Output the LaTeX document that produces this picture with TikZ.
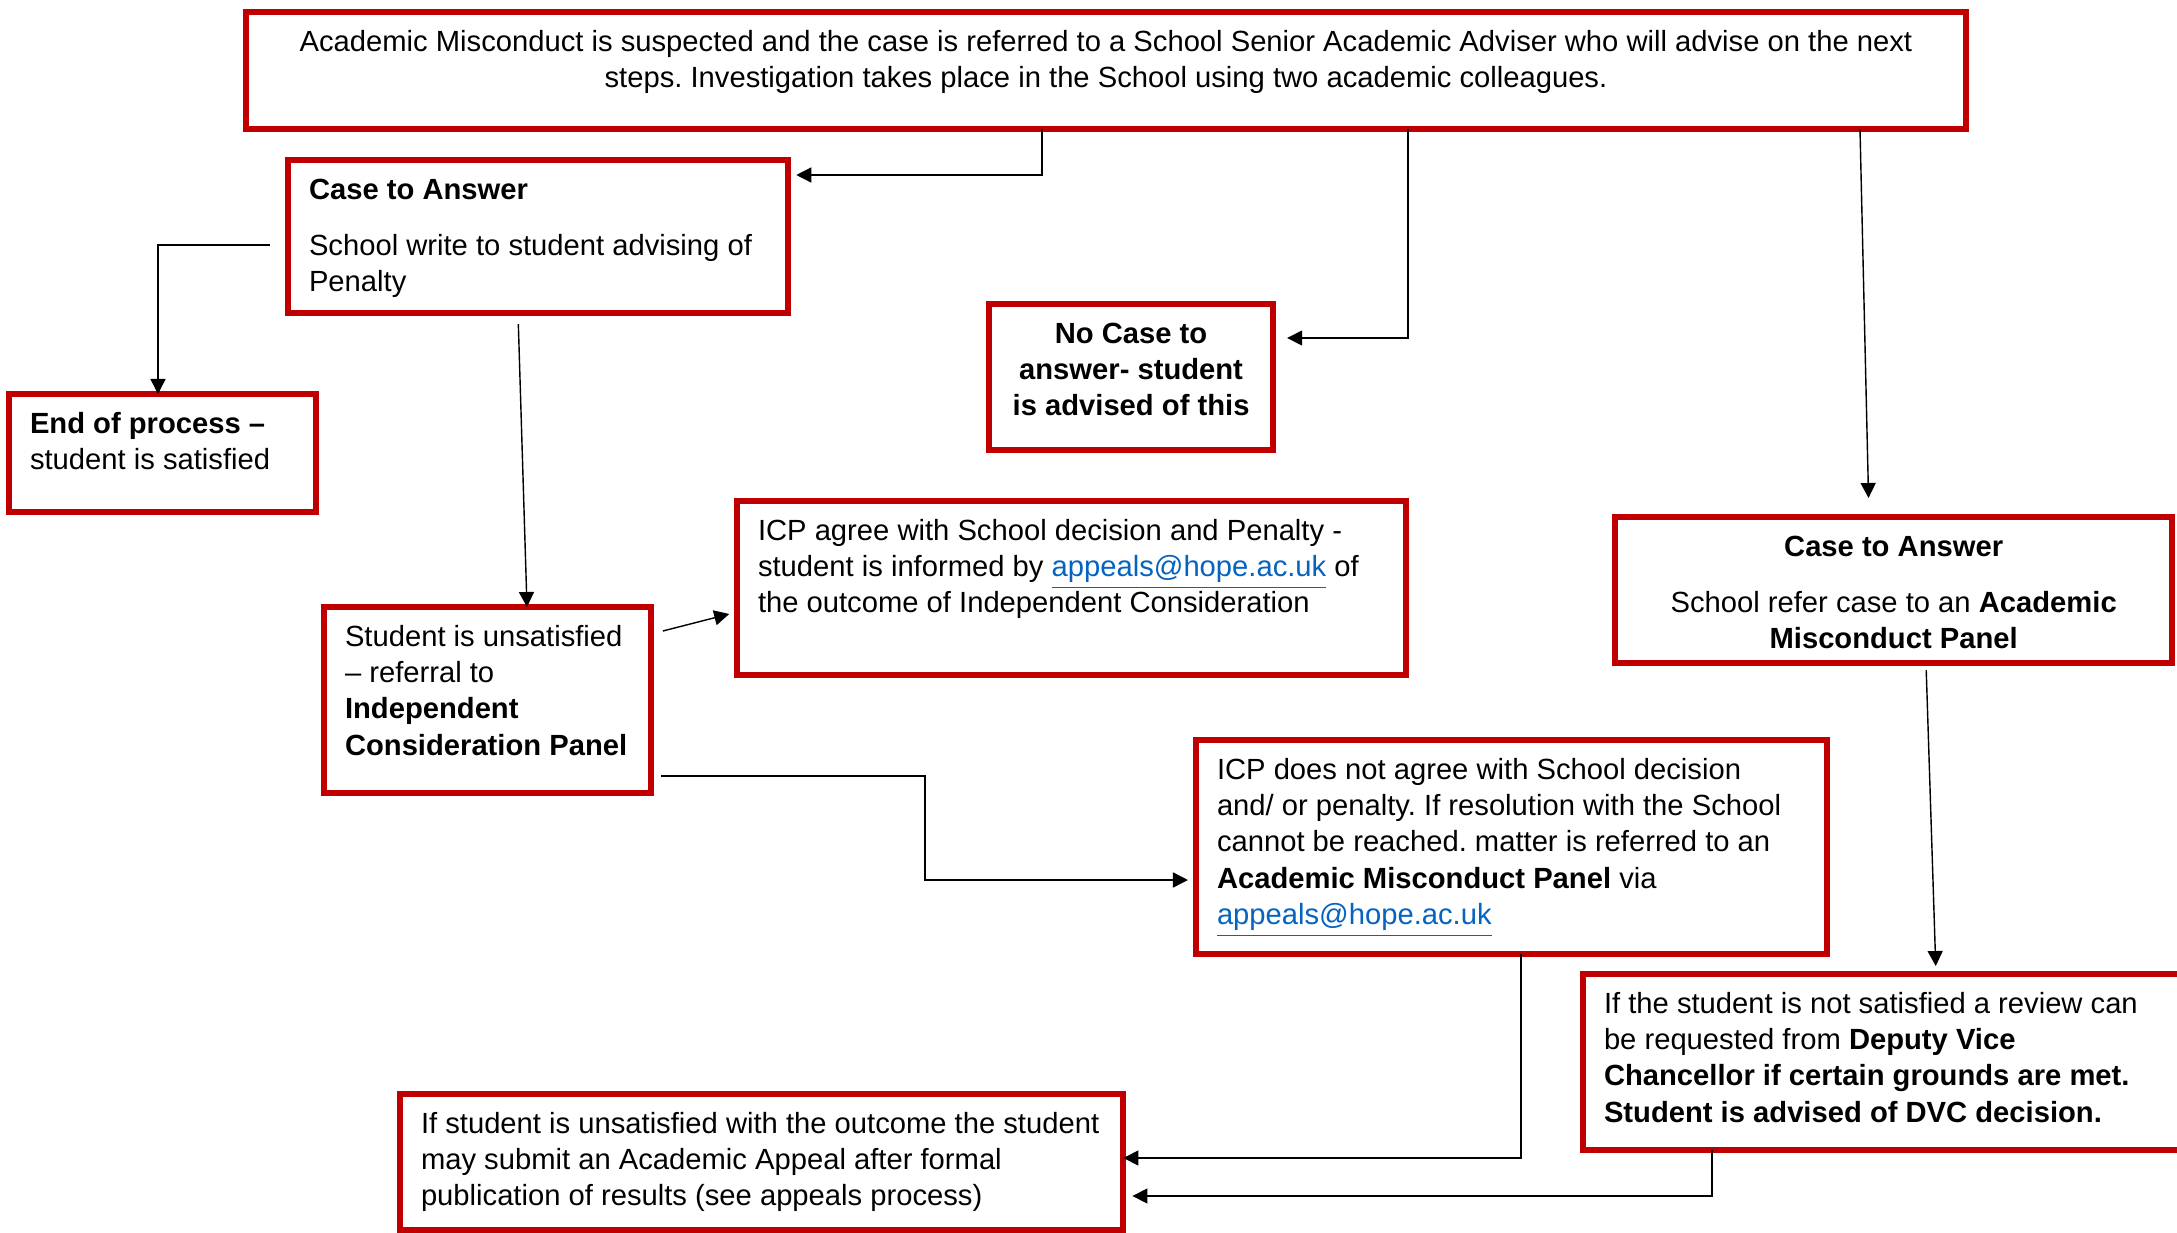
\documentclass[tikz,border=0pt]{standalone}
\usepackage{fontspec}
\setmainfont{Liberation Sans}
\usetikzlibrary{arrows.meta}
\definecolor{boxred}{RGB}{192,0,0}
\definecolor{linkblue}{RGB}{5,99,193}
\newcommand{\boxbody}[3]{\parbox[c][#2][t]{#1}{\strut#3}}
\newcommand{\lnk}[1]{{\color{linkblue}\underline{#1}}}
\frenchspacing
\tikzset{
  box/.style={draw=boxred, line width=0.06cm, fill=white, anchor=north west, outer sep=0pt,
    inner xsep=0.21cm, inner ysep=0.14cm, font=\fontsize{8.3}{10.3}\selectfont},
}
\begin{document}
\begin{tikzpicture}[x=0.01cm, y=-0.01cm, >={Triangle[length=0.15cm,width=0.15cm]}, line width=0.4pt]
	\useasboundingbox[fill=white] (0,0) rectangle (2177,1233);
	\clip (0,0) rectangle (2177,1233);
	% boxes
	\node[box] (top) at (246,12) {\boxbody{16.77cm}{0.89cm}{\centering Academic Misconduct is suspected and the case is referred to a School Senior Academic Adviser who will advise on the next\\ steps. Investigation takes place in the School using two academic colleagues.}};
	\node[box] (caseL) at (288,160) {\boxbody{4.58cm}{1.25cm}{\raggedright\textbf{Case to Answer}\\[0.2cm] School write to student advising of\\ Penalty}};
	\node[box] (endp) at (9,394) {\boxbody{2.65cm}{0.90cm}{\raggedright\textbf{End of process –}\\ student is satisfied}};
	\node[box] (nocase) at (989,304) {\boxbody{2.42cm}{1.18cm}{\centering\textbf{No Case to\\ answer- student\\ is advised of this}}};
	\node[box] (icpagree) at (737,501) {\boxbody{6.27cm}{1.46cm}{\raggedright ICP agree with School decision and Penalty -\\ student is informed by \lnk{appeals@hope.ac.uk} of\\ the outcome of Independent Consideration}};
	\node[box] (caseR) at (1615,517) {\boxbody{5.15cm}{1.18cm}{\centering\textbf{Case to Answer}\\[0.2cm] School refer case to an \textbf{Academic}\\ \textbf{Misconduct Panel}}};
	\node[box] (student) at (324,607) {\boxbody{2.85cm}{1.58cm}{\raggedright Student is unsatisfied\\ – referral to\\ \textbf{Independent}\\ \textbf{Consideration Panel}}};
	\node[box] (icpno) at (1196,740) {\boxbody{5.89cm}{1.86cm}{\raggedright ICP does not agree with School decision\\ and/ or penalty. If resolution with the School\\ cannot be reached. matter is referred to an\\ \textbf{Academic Misconduct Panel} via\\ \lnk{appeals@hope.ac.uk}}};
	\node[box] (dvc) at (1583,974) {\boxbody{5.98cm}{1.48cm}{\raggedright If the student is not satisfied a review can\\ be requested from \textbf{Deputy Vice}\\ \textbf{Chancellor if certain grounds are met.}\\ \textbf{Student is advised of DVC decision.}}};
	\node[box] (final) at (400,1094) {\boxbody{6.81cm}{1.08cm}{\raggedright If student is unsatisfied with the outcome the student\\ may submit an Academic Appeal after formal\\ publication of results (see appeals process)}};
	% bends and feet of the connectors
	\coordinate (b1) at (1042,175);
	\coordinate (b2) at (1408,338);
	\coordinate (b3) at (158,245);
	\coordinate (b4) at (925,776);
	\coordinate (b5) at (925,880);
	\coordinate (b6) at (1521,1158);
	\coordinate (b7) at (1712,1196);
	\coordinate (s1) at (518,0); \coordinate (s2) at (527,0);
	\coordinate (s3) at (1860,0); \coordinate (s4) at (1869,0);
	\coordinate (s5) at (1926,0); \coordinate (s6) at (1936,0);
	\coordinate (s7) at (0,634); \coordinate (s8) at (0,612);
	% connectors
	\draw[->, shorten >=0.08cm] (top.south -| b1) |- (caseL.east |- b1);
	\draw[->, shorten >=0.14cm] (top.south -| b2) |- (nocase.east |- b2);
	\draw[->, shorten >=0.19cm] (top.south -| s3) -- (caseR.north -| s4);
	\draw[->, shorten <=0.18cm] (caseL.west |- b3) -| (endp.north -| b3);
	\draw[->, shorten <=0.11cm] (caseL.south -| s1) -- (student.north -| s2);
	\draw[->, shorten <=0.12cm, shorten >=0.08cm] (student.east |- s7) -- (icpagree.west |- s8);
	\draw[->, shorten <=0.10cm, shorten >=0.08cm] (student.east |- b4) -- (b4) |- (icpno.west |- b5);
	\draw[->, shorten <=0.07cm, shorten >=0.08cm] (caseR.south -| s5) -- (dvc.north -| s6);
	\draw[->] (icpno.south -| b6) |- (final.east |- b6);
	\draw[->, shorten >=0.09cm] (dvc.south -| b7) |- (final.east |- b7);
\end{tikzpicture}
\end{document}
